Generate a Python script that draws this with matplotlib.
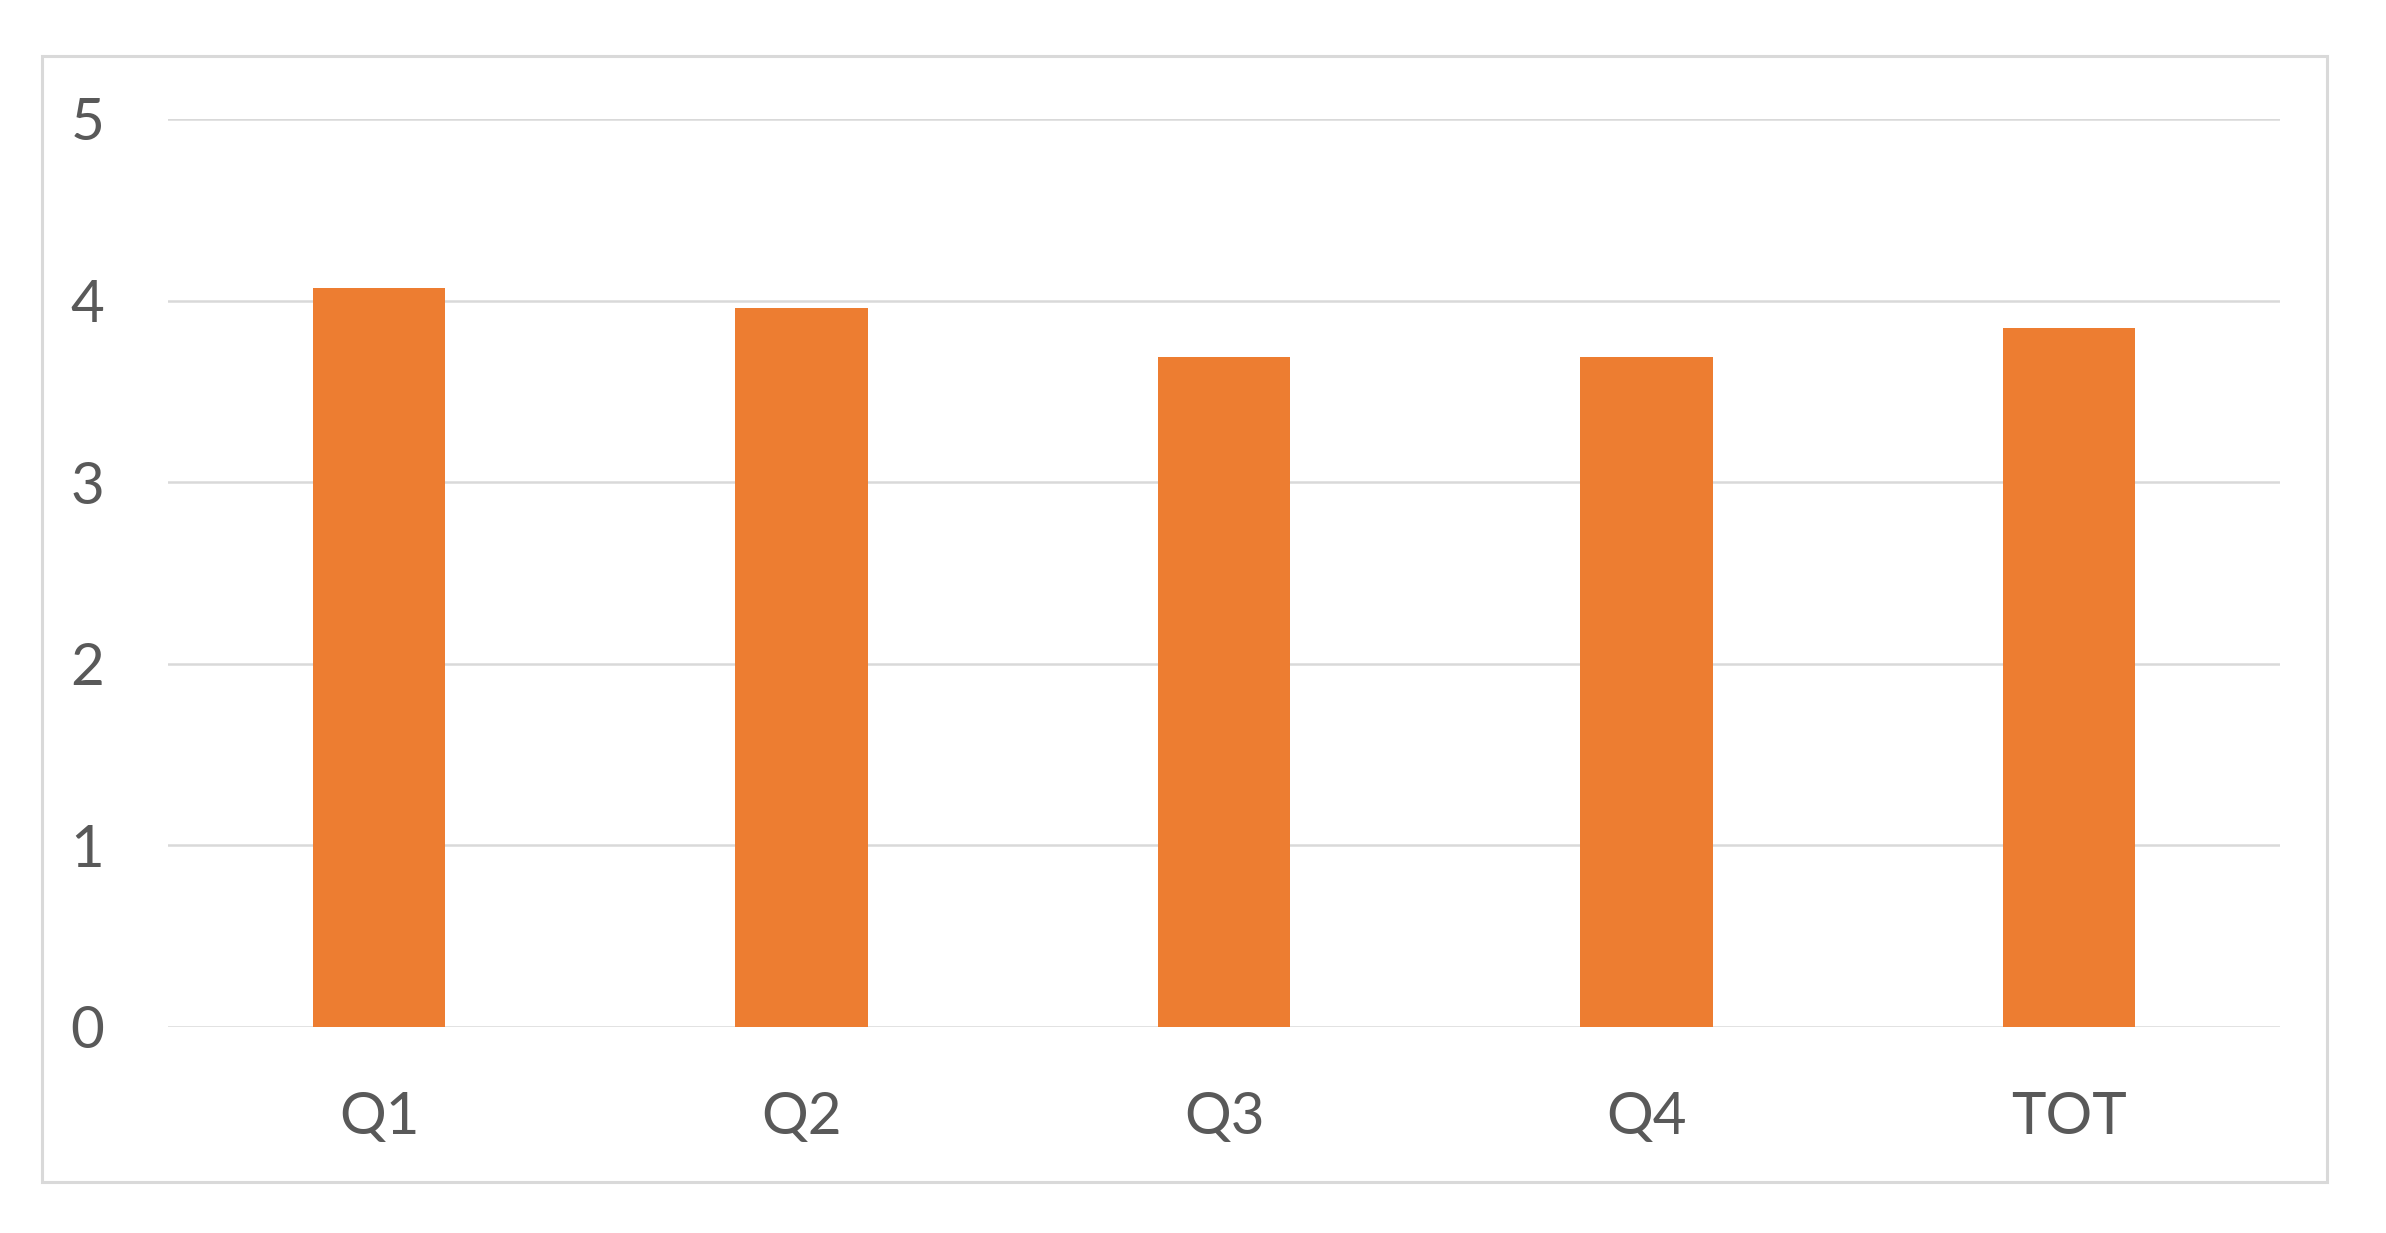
import matplotlib.pyplot as plt
from matplotlib.patches import Rectangle

# datos
categorias = ['Q1', 'Q2', 'Q3', 'Q4', 'TOT']
valores = [4.07, 3.96, 3.69, 3.69, 3.85]

plt.rcParams['font.family'] = ['Lato', 'DejaVu Sans']

fig = plt.figure(figsize=(23.86, 12.33), dpi=100)
fig.patch.set_facecolor('white')

# borde exterior del grafico
fig.patches.append(Rectangle((0.0176, 0.0414), 0.9577, 0.913, transform=fig.transFigure,
                             fill=False, edgecolor='#d9d9d9', linewidth=2.2))

ax = fig.add_axes([0.0704, 0.1671, 0.8852, 0.7364])
ax.bar(range(len(categorias)), valores, width=0.313, color='#ED7D31', zorder=3)

ax.set_xlim(-0.5, len(categorias) - 0.5)
ax.set_ylim(0, 5)
ax.set_yticks(range(0, 6))
ax.set_xticks(range(len(categorias)))
ax.set_xticklabels(categorias)

ax.grid(axis='y', color='#d9d9d9', linewidth=1.8, zorder=0)
for s in ax.spines.values():
    s.set_visible(False)
ax.tick_params(axis='both', length=0, colors='#595959', labelsize=42)
ax.tick_params(axis='y', pad=46)
ax.tick_params(axis='x', pad=46)

plt.savefig('out.png', dpi=100)
